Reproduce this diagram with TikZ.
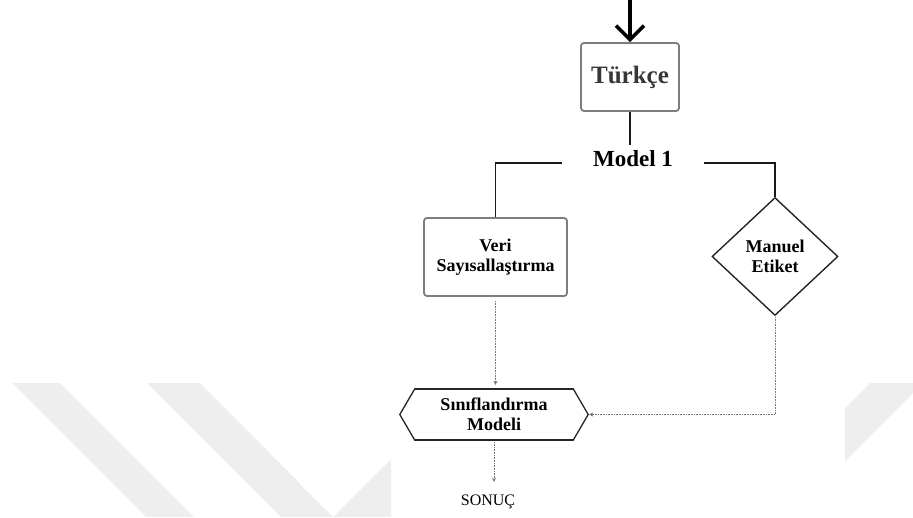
\documentclass[tikz,border=0pt]{standalone}
\usepackage{fontspec}
\setmainfont{Liberation Serif}
\usetikzlibrary{arrows.meta,shapes.geometric}
\definecolor{wmgray}{RGB}{238,238,238}
\definecolor{boxgray}{RGB}{125,125,125}
\definecolor{inkgray}{RGB}{55,55,55}
\definecolor{dotgray}{RGB}{115,115,115}
\begin{document}
\begin{tikzpicture}[x=1pt,y=-1pt,
  labelfont/.style={font=\bfseries\fontsize{18}{20}\selectfont, align=center},
  greybox/.style={draw=boxgray, line width=1.8pt, rounded corners=3pt, fill=white,
                  inner sep=0pt, labelfont},
  wire/.style={draw=black!90, line width=1.8pt},
  dots/.style={draw=dotgray, line width=1pt, dash pattern=on 0.8pt off 0.8pt,
               -{Stealth[length=4pt,width=4pt,sep=0pt]}}
]
\useasboundingbox (0,0) rectangle (913,517);

% faint background bands
\fill[wmgray] (12,383) -- (60,383) -- (194,517) -- (146,517) -- cycle;
\fill[wmgray] (147,383) -- (200,383) -- (333,517) -- (391,459) -- (391,517) -- (281,517) -- cycle;
\fill[wmgray] (845,408) -- (870,383) -- (913,383) -- (913,393) -- (845,461) -- cycle;

% nodes
\node[greybox, minimum width=98pt, minimum height=68pt, text=inkgray,
      font=\bfseries\fontsize{25}{28}\selectfont] (tr) at (630,77) {Türkçe};
\coordinate (in) at (630,0);

\node[font=\bfseries\fontsize{23}{26}\selectfont, text height=12pt, text depth=6pt,
      inner xsep=31pt, inner ysep=9pt] (m) at (633,163) {Model 1};

\node[greybox, minimum width=143pt, minimum height=78pt] (veri) at (495.5,257)
      {Veri\\Sayısallaştırma};

\node[diamond, draw=black!85, line width=1.4pt, fill=white, minimum width=126pt,
      minimum height=118pt, inner sep=0pt, labelfont] (man) at (775,256.5)
      {Manuel\\Etiket};

\node[inner sep=0pt, minimum width=158pt, minimum height=51pt, labelfont] (clf)
      at (494,414.5) {Sınıflandırma\\Modeli};
\coordinate (clfL) at ([xshift=-15pt]clf.west);
\coordinate (clfR) at ([xshift=15pt]clf.east);
\draw[black!85, line width=1.3pt, line join=miter]
      (clfL) -- (clf.north west) -- (clf.north east) -- (clfR)
      -- (clf.south east) -- (clf.south west) -- cycle;
\draw[black!85, line width=2.2pt] (clf.north west) -- (clf.north east);
\draw[black!85, line width=2.2pt] (clf.south west) -- (clf.south east);

\node[font=\fontsize{16}{18}\selectfont, text height=12pt, text depth=0pt,
      inner sep=0pt] (res) at (488,499) {SONUÇ};

% connectors
\draw[line width=3.6pt, -{Straight Barb[length=14pt,width=28pt]}] (in) -- (tr.north);
\draw[wire] (tr.south) -- (tr.south |- m.north);
\draw[wire] (m.west) -| (veri.north);
\draw[wire] (m.east) -| (man.north);

\draw[dots, shorten <=4pt, shorten >=4pt] (veri.south) -- (veri.south |- clf.north);
\draw[dots, shorten <=1pt, shorten >=1pt] (man.south) |- (clfR);
\draw[dots, shorten <=2pt, shorten >=11pt] (clf.south) -- (clf.south |- res.north);
\end{tikzpicture}
\end{document}
